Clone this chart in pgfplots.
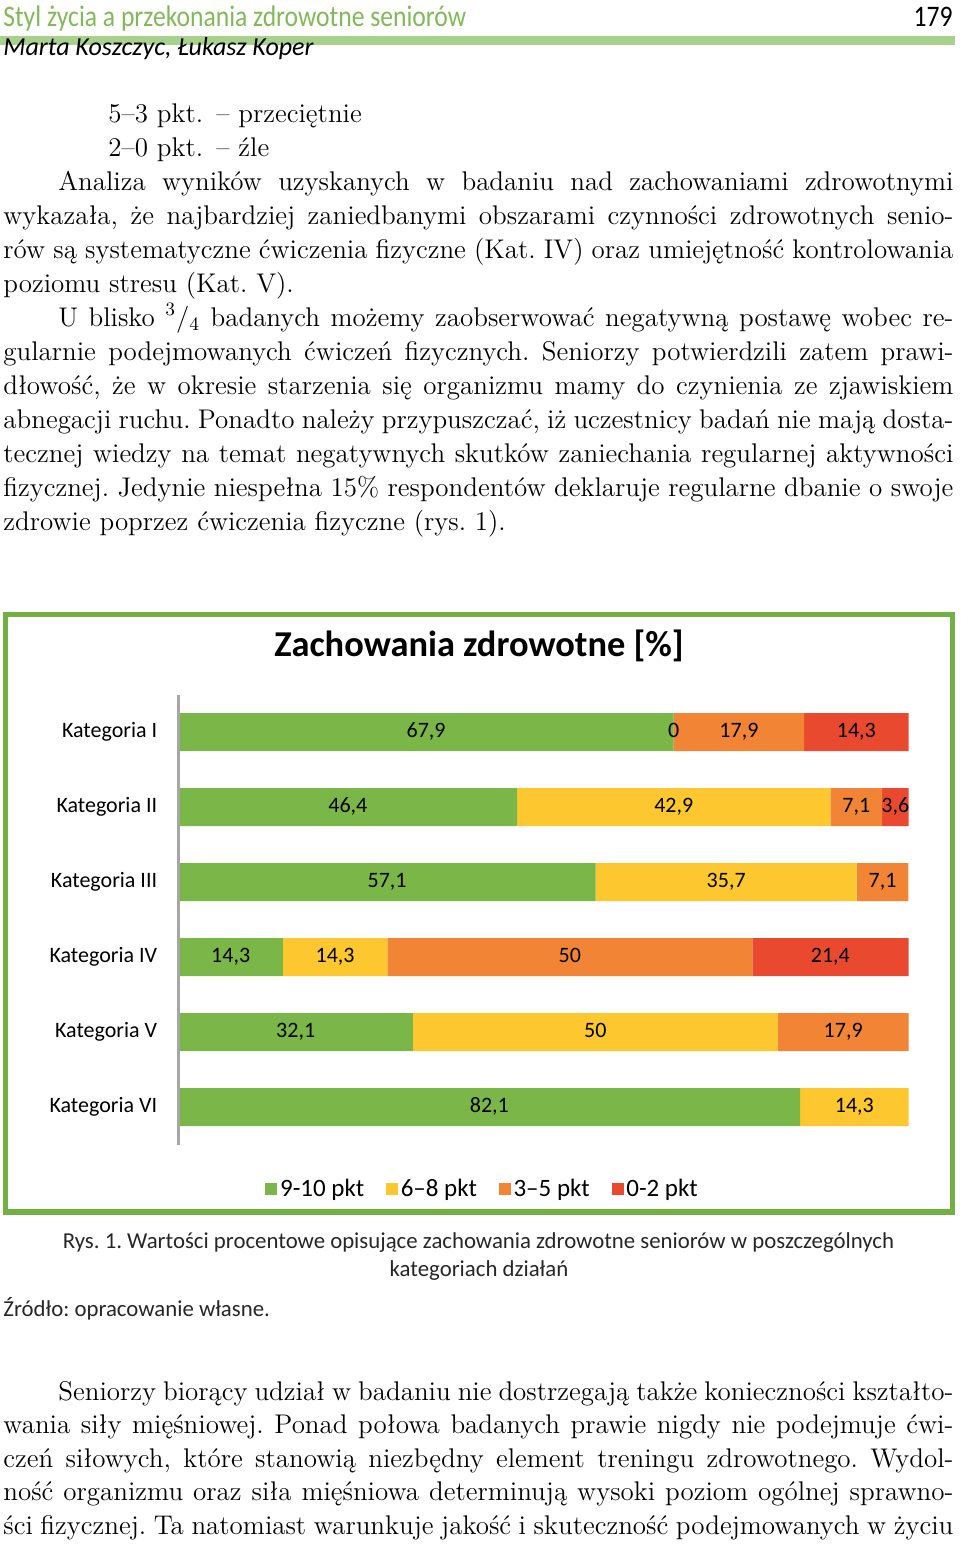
\documentclass[border=0pt]{standalone}
\usepackage{fontspec}
\usepackage{pgfplots}
\usepackage{pgfplotstable}
\pgfplotsset{compat=1.18}

\newfontfamily\carl{Carlito}
\newfontfamily\cond[FakeStretch=0.86]{Carlito}

\definecolor{cA}{HTML}{7AB648}
\definecolor{cB}{HTML}{FDC82F}
\definecolor{cC}{HTML}{F28535}
\definecolor{cD}{HTML}{E9492E}
\definecolor{cframe}{HTML}{72B043}
\definecolor{hdgreen}{HTML}{80BA58}
\definecolor{hdbar}{HTML}{A9D18E}
\definecolor{axgray}{HTML}{A6A6A6}

% odsetki: 9-10, 6-8, 3-5, 0-2 pkt (la..ld = podpisy na slupkach)
\pgfplotstableread{
pos a    b    c    d    la   lb   lc   ld
1   67.9 0    17.9 14.3 67,9 0    17,9 14,3
2   46.4 42.9 7.1  3.6  46,4 42,9 7,1  3,6
3   57.1 35.7 7.1  0    57,1 35,7 7,1  {}
4   14.3 14.3 50   21.4 14,3 14,3 50   21,4
5   32.1 50   17.9 0    32,1 50   17,9 {}
6   82.1 14.3 0    0    82,1 14,3 {}   {}
}\zach

% slupki 100%: udzial w sumie wiersza
\newcommand\udzial[1]{100*\thisrow{#1}/(\thisrow{a}+\thisrow{b}+\thisrow{c}+\thisrow{d})}
\newcommand\lab{\carl\fontsize{11}{13}\selectfont}
\newcommand\bodyf{\fontsize{13.5}{16}\selectfont}
\newcommand\jl[4]{\node[tl] at (#1,#2) {\makebox[#3][s]{#4}};}

\begin{document}
\frenchspacing
\begin{tikzpicture}
% cala strona: 960 x 1549 px = 480 x 774.5 pt
\path (0,0) rectangle (480pt,-774.5pt);

\begin{scope}[x=0.5pt, y=-0.5pt, tl/.style={anchor=base west, inner sep=0pt, font=\bodyf}]
% naglowek strony
\fill[hdbar] (0,36) rectangle (955,45);
\node[anchor=base west, inner sep=0pt, font=\cond\fontsize{14.9}{16}\selectfont, text=hdgreen] at (3,26) {Styl życia a przekonania zdrowotne seniorów};
\node[anchor=base east, inner sep=0pt, font=\cond\fontsize{14.9}{16}\selectfont] at (953,26) {179};
\node[anchor=base west, inner sep=0pt, font=\carl\itshape\fontsize{13}{15}\selectfont] at (3,55) {Marta Koszczyc, Łukasz Koper};

% tekst nad rysunkiem
\node[tl] at (108,122) {5–3 pkt.};
\node[tl] at (216,122) {– przeciętnie};
\node[tl] at (108,156) {2–0 pkt.};
\node[tl] at (216,156) {– źle};
\jl{58}{190}{447.5pt}{Analiza wyników uzyskanych w badaniu nad zachowaniami zdrowotnymi}
\jl{3}{224}{475pt}{wykazała, że najbardziej zaniedbanymi obszarami czynności zdrowotnych senio-}
\jl{3}{258}{475pt}{rów są systematyczne ćwiczenia fizyczne (Kat. IV) oraz umiejętność kontrolowania}
\node[tl] at (3,292) {poziomu stresu (Kat. V).};
\jl{58}{326}{447.5pt}{U blisko \textsuperscript{3}/\textsubscript{4} badanych możemy zaobserwować negatywną postawę wobec re-}
\jl{3}{360}{475pt}{gularnie podejmowanych ćwiczeń fizycznych. Seniorzy potwierdzili zatem prawi-}
\jl{3}{394}{475pt}{dłowość, że w okresie starzenia się organizmu mamy do czynienia ze zjawiskiem}
\jl{3}{428}{475pt}{abnegacji ruchu. Ponadto należy przypuszczać, iż uczestnicy badań nie mają dosta-}
\jl{3}{462}{475pt}{tecznej wiedzy na temat negatywnych skutków zaniechania regularnej aktywności}
\jl{3}{496}{475pt}{fizycznej. Jedynie niespełna 15\% respondentów deklaruje regularne dbanie o swoje}
\node[tl] at (3,530) {zdrowie poprzez ćwiczenia fizyczne (rys. 1).};

% ramka wykresu i tytul
\draw[cframe, line width=2.6pt] (5.8,614.5) rectangle (952.5,1212);
\node[anchor=base, inner sep=0pt, font=\carl\bfseries\fontsize{18.2}{20}\selectfont] at (479,656) {Zachowania zdrowotne [\%]};

% podpis
\node[anchor=base, inner sep=0pt, font=\carl\fontsize{11.4}{13}\selectfont, text=black!85] at (478.5,1248) {Rys. 1. Wartości procentowe opisujące zachowania zdrowotne seniorów w poszczególnych};
\node[anchor=base, inner sep=0pt, font=\carl\fontsize{11.4}{13}\selectfont, text=black!85] at (479,1276) {kategoriach działań};
\node[anchor=base west, inner sep=0pt, font=\carl\fontsize{11.4}{13}\selectfont, text=black!85] at (3,1316) {Źródło: opracowanie własne.};

% tekst pod rysunkiem
\jl{58}{1400}{447.5pt}{Seniorzy biorący udział w badaniu nie dostrzegają także konieczności kształto-}
\jl{3}{1433.5}{475pt}{wania siły mięśniowej. Ponad połowa badanych prawie nigdy nie podejmuje ćwi-}
\jl{3}{1467}{475pt}{czeń siłowych, które stanowią niezbędny element treningu zdrowotnego. Wydol-}
\jl{3}{1500.5}{475pt}{ność organizmu oraz siła mięśniowa determinują wysoki poziom ogólnej sprawno-}
\jl{3}{1534}{475pt}{ści fizycznej. Ta natomiast warunkuje jakość i skuteczność podejmowanych w życiu}
\end{scope}

\begin{axis}[
  at={(89.25pt,-572.25pt)}, anchor=south west,
  scale only axis, width=365pt, height=225pt,
  set layers,
  xbar stacked, bar width=19pt,
  xmin=0, xmax=100, ymin=0.5, ymax=6.5, y dir=reverse,
  axis x line=none, axis y line*=left,
  y axis line style={draw=axgray, line width=1.5pt},
  ytick={1,...,6},
  yticklabels={Kategoria I, Kategoria II, Kategoria III, Kategoria IV, Kategoria V, Kategoria VI},
  major tick length=0pt,
  yticklabel style={font=\lab, text=black, inner sep=0pt, xshift=-10.5pt},
  point meta=explicit symbolic,
  nodes near coords,
  every node near coord/.append style={font=\lab, text=black, anchor=center, inner sep=0pt,
    text height=7.2pt, text depth=2pt},
  clip=false,
  legend style={at={(0.417,-0.099)}, anchor=center, draw=none, fill=none,
    font=\carl\fontsize{12.5}{14}\selectfont, nodes={inner sep=1.4pt},
    /tikz/every even column/.append style={column sep=9.5pt}},
  legend columns=-1,
  legend image code/.code={\fill[#1] (0pt,-3pt) rectangle (6pt,3pt);},
]
% slupki w tle, podpisy nad wszystkimi slupkami
\addplot[fill=cA, draw=none, on layer=axis background] table[y=pos, x expr={\udzial{a}}, meta=la] {\zach};
% zerowy odcinek nie dostaje podpisu, wiec minimalna szerokosc, zeby "0" bylo widac
\addplot[fill=cB, draw=none, on layer=axis background] table[y=pos, x expr={max(\udzial{b},0.001)}, meta=lb] {\zach};
\addplot[fill=cC, draw=none, on layer=axis background] table[y=pos, x expr={\udzial{c}}, meta=lc] {\zach};
\addplot[fill=cD, draw=none, on layer=axis background] table[y=pos, x expr={\udzial{d}}, meta=ld] {\zach};
\legend{9-10 pkt, 6–8 pkt, 3–5 pkt, 0-2 pkt}
\end{axis}
\end{tikzpicture}
\end{document}
